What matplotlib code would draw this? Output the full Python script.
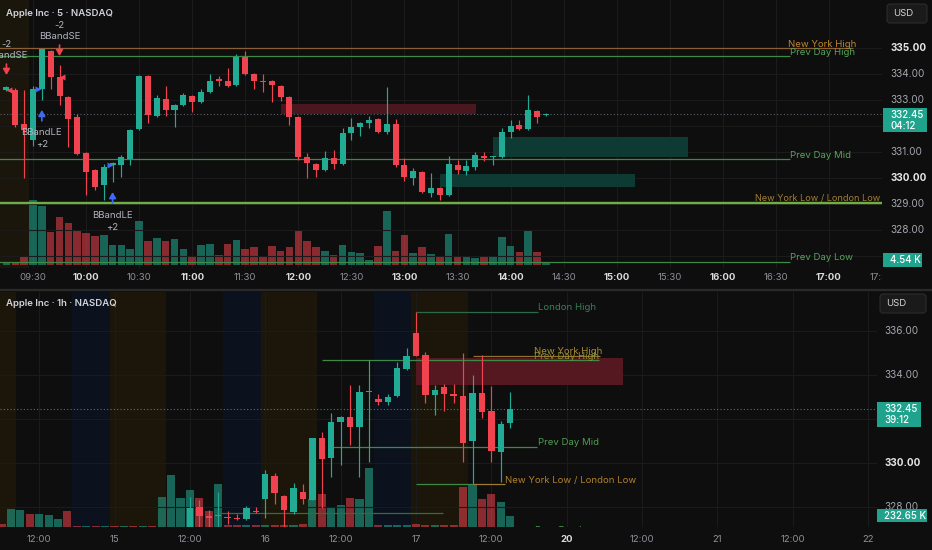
import matplotlib
matplotlib.use("Agg")
import matplotlib.pyplot as plt
from matplotlib.patches import Rectangle, FancyBboxPatch
import matplotlib.transforms as mtransforms
import numpy as np

plt.rcParams['font.family'] = ['Inter', 'DejaVu Sans']

# ======================= DATA =======================
top_title = "Apple Inc · 5 · NASDAQ"
bot_title = "Apple Inc · 1h · NASDAQ"

# ---- top panel: 5-minute bars, index 0 = 09:30 ----
top_bar = list(range(-3, 59))
top_open = [333.38, 333.38, 332.08, 331.46, 333.42, 334.88, 333.88, 333.12, 332.35, 330.96,
            330.31, 329.73, 330.50, 330.50, 330.73, 331.88, 333.92, 332.38, 333.04, 332.62,
            332.81, 333.15, 332.92, 333.31, 333.81, 333.73, 333.58, 334.65, 334.00, 333.73,
            333.73, 333.54, 333.12, 332.35, 330.81, 330.54, 330.31, 330.77, 330.54, 331.73,
            331.96, 332.12, 332.27, 331.77, 332.08, 330.50, 330.00, 330.23, 329.42, 329.62,
            329.35, 330.50, 330.27, 330.42, 330.85, 330.79, 330.81, 331.77, 332.04, 331.88,
            332.58, 332.42]
top_high = [333.54, 333.46, 333.38, 333.54, 334.98, 334.92, 334.35, 333.15, 332.46, 331.00,
            330.35, 330.54, 330.62, 330.88, 331.88, 333.96, 333.96, 333.19, 333.54, 332.85,
            333.27, 333.19, 333.42, 334.00, 333.92, 334.23, 334.77, 334.88, 334.04, 334.00,
            333.77, 333.58, 333.15, 332.38, 330.96, 330.58, 331.04, 331.08, 331.92, 332.31,
            332.15, 332.38, 332.31, 333.50, 332.27, 330.77, 330.38, 330.27, 330.19, 329.65,
            330.85, 330.69, 330.69, 331.00, 331.00, 330.85, 331.92, 332.23, 332.23, 333.19,
            332.62, 332.50]
top_low = [333.35, 331.96, 330.00, 331.23, 333.00, 333.42, 332.81, 331.19, 330.88, 329.35,
           329.54, 329.15, 329.85, 330.04, 330.50, 331.85, 332.12, 332.35, 332.38, 331.96,
           332.77, 332.54, 332.88, 333.27, 333.54, 333.50, 333.54, 333.96, 333.42, 333.31,
           332.92, 332.96, 332.04, 330.69, 330.00, 330.04, 330.27, 330.35, 330.50, 331.46,
           331.62, 331.92, 331.73, 331.69, 330.42, 329.88, 329.73, 329.42, 329.27, 329.15,
           329.31, 330.15, 330.12, 330.31, 330.65, 330.50, 330.77, 331.54, 331.85, 331.85,
           332.12, 332.38]
top_close = [333.50, 332.04, 331.85, 333.42, 334.96, 333.88, 333.15, 332.27, 330.92, 330.23,
             329.65, 330.42, 330.58, 330.81, 331.85, 333.92, 332.42, 333.08, 332.62, 332.81,
             333.19, 332.92, 333.31, 333.73, 333.73, 333.54, 334.65, 334.00, 333.73, 333.69,
             333.58, 333.12, 332.35, 330.81, 330.58, 330.31, 330.77, 330.54, 331.73, 331.96,
             332.12, 332.23, 331.77, 332.08, 330.50, 330.04, 330.27, 329.46, 329.62, 329.35,
             330.54, 330.31, 330.46, 330.88, 330.77, 330.81, 331.77, 332.00, 331.88, 332.62,
             332.35, 332.45]
top_volume_k = [4.5, 6.8, 20.4, 147.6, 133.9, 74.9, 109.0, 95.3, 79.5, 72.6,
                65.8, 68.1, 45.4, 45.4, 36.3, 99.9, 54.5, 61.3, 54.5, 59.0,
                36.3, 20.4, 45.4, 47.7, 22.7, 47.7, 56.8, 36.3, 40.9, 20.4,
                43.1, 31.8, 40.9, 77.2, 54.5, 40.9, 31.8, 22.7, 45.4, 29.5,
                27.2, 11.4, 43.1, 122.6, 31.8, 68.1, 27.2, 40.9, 25.0, 20.4,
                70.4, 18.2, 18.2, 15.9, 18.2, 18.2, 63.6, 43.1, 29.5, 77.2,
                29.5, 4.54]
top_time_labels = ["09:30", "10:00", "10:30", "11:00", "11:30", "12:00", "12:30", "13:00",
                   "13:30", "14:00", "14:30", "15:00", "15:30", "16:00", "16:30", "17:00", "17:30"]
top_time_bars = [0, 6, 12, 18, 24, 30, 36, 42, 48, 54, 60, 66, 72, 78, 84, 90, 96]
top_price_ticks = [328, 329, 330, 331, 333, 334, 335]
top_last_price = 332.45
top_countdown = "04:12"
top_last_volume = "4.54 K"

top_level_names = ["New York High", "Prev Day High", "Prev Day Mid",
                   "New York Low / London Low", "Prev Day Low"]
top_level_prices = [335.00, 334.69, 330.73, 329.04, 326.77]
top_level_end_bar = [92.7, 85.6, 85.6, 96.5, 85.6]
top_level_label_bar = [85.4, 85.6, 85.6, 81.6, 85.6]

top_zone_start = [28.0, 52.0, 46.0]
top_zone_end = [50.1, 74.1, 68.1]
top_zone_low = [332.46, 330.81, 329.65]
top_zone_high = [332.85, 331.58, 330.15]

short_sig_bar = [-3, 3]
short_sig_price = [333.96, 334.69]
long_sig_bar = [1, 9]
long_sig_price = [332.62, 329.46]
fill_bar = [-2.68, 0.6, 3.3, 8.7]
fill_price = [333.38, 333.42, 333.87, 330.50]
fill_is_buy = [False, True, False, True]

# ---- bottom panel: 1-hour bars, index 0 = day 17 04:00 ----
bot_bar = list(range(-24, 11))
bot_open = [326.95, 328.01, 327.59, 327.59, 327.55, 327.51, 327.45, 327.83, 328.35, 329.41,
            328.51, 327.79, 328.70, 328.32, 331.12, 330.21, 331.88, 332.09, 331.65, 333.22,
            332.91, 332.79, 333.06, 334.26, 335.93, 334.91, 333.09, 333.44, 333.12, 333.05,
            331.00, 333.20, 332.36, 330.51, 331.80]
bot_high = [328.45, 328.32, 327.86, 328.70, 327.83, 327.68, 328.05, 328.01, 329.68, 329.53,
            328.55, 329.10, 329.05, 331.15, 331.42, 332.26, 332.15, 333.55, 333.55, 334.68,
            333.12, 333.15, 334.58, 335.21, 336.88, 335.06, 333.55, 333.58, 333.58, 334.99,
            334.00, 334.91, 333.51, 331.91, 333.21]
bot_low = [326.85, 327.00, 327.00, 327.06, 327.23, 327.41, 327.41, 327.71, 327.49, 328.14,
           326.90, 327.68, 328.14, 328.30, 327.94, 329.38, 329.91, 330.82, 329.38, 330.06,
           332.64, 332.62, 333.00, 334.24, 334.85, 332.71, 332.18, 332.36, 332.73, 330.03,
           329.05, 332.06, 330.06, 329.15, 331.58]
bot_close = [327.97, 327.59, 327.51, 327.60, 327.49, 327.45, 327.94, 327.79, 329.50, 328.65,
             327.86, 328.85, 328.36, 331.12, 330.18, 331.88, 332.09, 331.65, 333.21, 333.24,
             332.76, 333.01, 334.30, 334.86, 334.87, 333.09, 333.32, 333.12, 333.06, 330.92,
             333.20, 332.33, 330.55, 331.77, 332.45]
bot_vol_bar = list(range(-44, 11))
bot_volume_k = [72, 374, 368, 269, 269, 247, 178, 338, 25, 18,
                20, 15, 22, 18, 20, 16, 25, 635, 1093, 622,
                776, 607, 338, 903, 36, 32, 32, 32, 42, 42,
                42, 42, 57, 586, 706, 431, 459, 622, 586, 1256,
                42, 42, 42, 42, 53, 42, 32, 32, 32, 846,
                882, 586, 692, 529, 232.65]
bot_volume_up = [0, 1, 1, 0, 1, 1, 1, 0, 0, 1,
                 0, 1, 0, 1, 0, 1, 0, 1, 1, 1,
                 1, 0, 0, 1, 0, 0, 1, 0, 1, 0,
                 0, 1, 0, 1, 0, 1, 1, 0, 1, 1,
                 0, 1, 1, 1, 0, 0, 1, 0, 0, 0,
                 1, 0, 0, 1, 1]
bot_time_labels = ["12:00", "15", "12:00", "16", "12:00", "17", "12:00", "20",
                   "12:00", "21", "12:00", "22"]
bot_time_bars = [-40, -32, -24, -16, -8, 0, 8, 16, 24, 32, 40, 48]
bot_price_ticks = [328, 330, 334, 336]
bot_grid_prices = [328, 330, 332, 334, 336]
bot_last_price = 332.45
bot_countdown = "39:12"
bot_last_volume = "232.65 K"
bot_premarket_spans = [(-48.5, -42.5), (-32.5, -26.5), (-16.5, -10.5), (-0.5, 5.5)]
bot_afterhours_spans = [(-36.5, -32.5), (-20.5, -16.5), (-4.5, -0.5)]

bot_lines_price = [336.88, 334.88, 334.68, 330.74, 329.03, 329.03, 327.71]
bot_lines_start = [0, 6.05, -10, -9, 0, 6, -21]
bot_lines_end = [12.95, 19.5, 19.4, 12.8, 6, 9.45, 2.9]
bot_label_names = ["London High", "New York High", "Prev Day High", "Prev Day Mid",
                   "New York Low / London Low", "Prev Day Low"]
bot_label_prices = [336.88, 334.88, 334.68, 330.74, 329.03, 326.77]
bot_label_bar = [12.95, 12.53, 12.53, 12.95, 9.45, 12.6]

bot_zone_start, bot_zone_end = [0.0], [22.0]
bot_zone_low, bot_zone_high = [333.55], [334.79]

# ======================= STYLE =======================
BG = '#0e0e0e'
UP = '#22ab94'
DN = '#f0424f'
TEAL_TAG = '#1fa38c'
GRID = '#1b1b1b'
BLUE = '#3d6bf5'
TXT = '#d1d4dc'
TXT_DIM = '#8e919a'
GREEN_LINE = '#3c8a45'
GREEN_TXT = '#55a45a'
ORANGE_LINE = '#8a5f36'
ORANGE_TXT = '#c1852e'
VOL_ALPHA = 0.55

W, H = 932, 550
fig = plt.figure(figsize=(W / 100, H / 100), dpi=100, facecolor=BG)


def px_rect(l, t, r, b):
    return [l / W, 1 - b / H, (r - l) / W, (b - t) / H]


def make_panel(rect, xlim, ylim, vlim):
    axv = fig.add_axes(rect)
    axv.set_facecolor(BG)
    ax = axv.twinx()
    ax.set_zorder(axv.get_zorder() + 1)
    ax.patch.set_visible(False)
    for a in (ax, axv):
        a.set_xlim(*xlim)
        for s in a.spines.values():
            s.set_visible(False)
        a.set_xticks([])
        a.set_yticks([])
    ax.set_ylim(*ylim)
    axv.set_ylim(*vlim)
    return ax, axv


def candles(ax, x, o, h, l, c, width, minh):
    x = np.asarray(x, float)
    o, h, l, c = map(np.asarray, (o, h, l, c))
    col = np.where(c >= o, UP, DN)
    ax.vlines(x, l, h, colors=col, linewidth=0.85, zorder=5)
    ax.bar(x, np.maximum(np.abs(c - o), minh), width=width, bottom=np.minimum(o, c),
           color=col, linewidth=0, zorder=6)


def px_y(ax, v):
    return H - ax.transData.transform((0, v))[1]


ARROW = '-|>,head_width=0.2,head_length=0.35'

# ---------------- top panel ----------------
ax1, ax1v = make_panel(px_rect(0, 0, 882, 268), (-3.731, 95.997), (326.5385, 336.8462),
                       (-6.81, 601.55))
ax1v.axvspan(-10, -0.5, color='#1b160c', zorder=0, lw=0)
for b in top_time_bars:
    ax1v.axvline(b, color=GRID, lw=0.8, zorder=0.5)
for p in range(327, 336):
    ax1.axhline(p, color=GRID, lw=0.8, zorder=0.5)

tb = np.array(top_bar)
t_up = np.array(top_close) >= np.array(top_open)
ax1v.bar(tb, top_volume_k, width=0.86, color=np.where(t_up, UP, DN), alpha=VOL_ALPHA,
         linewidth=0, zorder=2)

zone_cols = ['#4a171e', '#0d3a32', '#0d3a32']
for s, e, lo, hi, zc in zip(top_zone_start, top_zone_end, top_zone_low, top_zone_high, zone_cols):
    ax1.add_patch(Rectangle((s, lo), e - s, hi - lo, fc=zc, ec='none', zorder=2))

ax1.axhline(top_last_price, color='#5d606b', lw=0.8, ls=(0, (1, 2)), zorder=3)

lvl_line_col = [ORANGE_LINE, GREEN_LINE, GREEN_LINE, '#6fae45', GREEN_LINE]
lvl_lw = [0.9, 0.9, 0.9, 1.7, 0.9]
lvl_txt_col = [ORANGE_TXT, GREEN_TXT, GREEN_TXT, '#a27c35', GREEN_TXT]
lvl_fs = [6.9, 6.9, 6.9, 6.6, 6.9]
up4 = mtransforms.offset_copy(ax1.transData, fig=fig, x=0, y=4, units='dots')
for name, p, e, lb, lc, lw, tc, fs in zip(top_level_names, top_level_prices, top_level_end_bar,
                                          top_level_label_bar, lvl_line_col, lvl_lw,
                                          lvl_txt_col, lvl_fs):
    ax1.hlines(p, -10, e, color=lc, lw=lw, zorder=4)
    ax1.text(lb, p, name, transform=up4, color=tc, fontsize=fs, va='center', ha='left',
             zorder=7, clip_on=True)
ax1.text(85.4, 336.96, "London High", transform=up4, color=GREEN_TXT, fontsize=6.9,
         va='center', ha='left', zorder=7, clip_on=True)

candles(ax1, top_bar, top_open, top_high, top_low, top_close, 0.68, 0.04)

# strategy signals
for b, p in zip(short_sig_bar, short_sig_price):
    ax1.annotate('', xy=(b, p), xytext=(0, 11), textcoords='offset pixels',
                 arrowprops=dict(arrowstyle=ARROW, color=DN, lw=1.2, shrinkA=0, shrinkB=0),
                 zorder=8)
    ax1.annotate('BBandSE', xy=(b, p), xytext=(0, 20), textcoords='offset pixels',
                 color='#b2b5be', fontsize=6.9, ha='center', va='center', zorder=8)
    ax1.annotate('-2', xy=(b, p), xytext=(0, 31), textcoords='offset pixels',
                 color='#b2b5be', fontsize=6.9, ha='center', va='center', zorder=8)
for b, p in zip(long_sig_bar, long_sig_price):
    ax1.annotate('', xy=(b, p), xytext=(0, -11), textcoords='offset pixels',
                 arrowprops=dict(arrowstyle=ARROW, color=BLUE, lw=1.2, shrinkA=0, shrinkB=0),
                 zorder=8)
    ax1.annotate('BBandLE', xy=(b, p), xytext=(0, -23), textcoords='offset pixels',
                 color='#b2b5be', fontsize=6.9, ha='center', va='center', zorder=8)
    ax1.annotate('+2', xy=(b, p), xytext=(0, -35), textcoords='offset pixels',
                 color='#b2b5be', fontsize=6.9, ha='center', va='center', zorder=8)
for b, p, buy in zip(fill_bar, fill_price, fill_is_buy):
    ax1.plot(b, p, marker='>' if buy else '<', ms=4, color=BLUE if buy else DN,
             mec='none', zorder=8)

# price axis labels
tr1 = mtransforms.blended_transform_factory(ax1.transAxes, ax1.transData)
for p in top_price_ticks:
    bold = p in (330, 335)
    ax1.text(1 + 8.7 / 882, p, f"{p:.2f}", transform=tr1, clip_on=False,
             color='#e6e6e6' if bold else '#a3a6af', fontsize=7.2,
             fontweight='bold' if bold else 'normal', va='center', ha='left')

# time axis
axt1 = fig.add_axes(px_rect(0, 268, 882, 290))
axt1.set_xlim(ax1.get_xlim()); axt1.set_ylim(0, 1); axt1.axis('off')
for lab, b in zip(top_time_labels, top_time_bars):
    bold = lab.endswith(':00')
    axt1.text(b, 0.57, lab, color='#dcdcdc' if bold else TXT_DIM, fontsize=6.9,
              fontweight='bold' if bold else 'normal', ha='center', va='center', clip_on=True)

# ---------------- bottom panel ----------------
ax2, ax2v = make_panel(px_rect(0, 292, 877, 527), (-44.16, 48.94), (327.0909, 337.7727),
                       (0, 4970))
for s, e in bot_premarket_spans:
    ax2v.axvspan(s, e, color='#1c160a', zorder=0, lw=0)
for s, e in bot_afterhours_spans:
    ax2v.axvspan(s, e, color='#0b111d', zorder=0, lw=0)
for b in bot_time_bars:
    ax2v.axvline(b, color=GRID, lw=0.8, zorder=0.5)
for p in bot_grid_prices:
    ax2.axhline(p, color=GRID, lw=0.8, zorder=0.5)

ax2v.bar(bot_vol_bar, bot_volume_k, width=0.86,
         color=np.where(np.array(bot_volume_up) == 1, UP, DN), alpha=VOL_ALPHA,
         linewidth=0, zorder=2)

for s, e, lo, hi in zip(bot_zone_start, bot_zone_end, bot_zone_low, bot_zone_high):
    ax2.add_patch(Rectangle((s, lo), e - s, hi - lo, fc='#561820', ec='none', zorder=2))

ax2.axhline(bot_last_price, color=UP, lw=0.8, ls=(0, (1, 2)), zorder=3, alpha=0.8)

bl_cols = ['#2c6b48', '#94702e', GREEN_LINE, GREEN_LINE, GREEN_LINE, '#a0782e', '#2f6f3c']
for p, s, e, c in zip(bot_lines_price, bot_lines_start, bot_lines_end, bl_cols):
    ax2.hlines(p, s, e, color=c, lw=0.9, zorder=4)
bl_txt = ['#3a7d57', '#ad8a33', '#8c9038', '#4e9d53', '#b07f2c', '#4e9d53']
up4b = mtransforms.offset_copy(ax2.transData, fig=fig, x=0, y=4, units='dots')
for name, p, b, c in zip(bot_label_names, bot_label_prices, bot_label_bar, bl_txt):
    ax2.text(b, p, name, transform=up4b, color=c, fontsize=6.9, va='center', ha='left',
             zorder=7, clip_on=True)

candles(ax2, bot_bar, bot_open, bot_high, bot_low, bot_close, 0.68, 0.05)

tr2 = mtransforms.blended_transform_factory(ax2.transAxes, ax2.transData)
for p in bot_price_ticks:
    bold = p == 330
    ax2.text(1 + 7.3 / 877, p, f"{p:.2f}", transform=tr2, clip_on=False,
             color='#e6e6e6' if bold else '#a3a6af', fontsize=7.2,
             fontweight='bold' if bold else 'normal', va='center', ha='left')

axt2 = fig.add_axes(px_rect(0, 527, 877, 550))
axt2.set_xlim(ax2.get_xlim()); axt2.set_ylim(0, 1); axt2.axis('off')
for lab, b in zip(bot_time_labels, bot_time_bars):
    bold = lab == "20"
    axt2.text(b, 0.46, lab, color='#dcdcdc' if bold else TXT_DIM, fontsize=6.9,
              fontweight='bold' if bold else 'normal', ha='center', va='center', clip_on=True)

# ---------------- overlay (pixel coords) ----------------
ov = fig.add_axes([0, 0, 1, 1])
ov.set_xlim(0, W); ov.set_ylim(H, 0); ov.axis('off'); ov.patch.set_visible(False)
ov.set_zorder(20)

ov.plot([0, W], [290, 290], color='#2a2a2a', lw=1.6)
ov.text(6.5, 13, top_title, color=TXT, fontsize=6.9, fontweight='semibold', va='center')
ov.text(6.5, 303, bot_title, color=TXT, fontsize=6.9, fontweight='semibold', va='center')

for (l, t, r, b) in [(887, 4, 927, 23), (880, 294, 926, 313)]:
    ov.add_patch(FancyBboxPatch((l, t), r - l, b - t, boxstyle='round,pad=0,rounding_size=3',
                                fc='#1a1a1a', ec='#2c2c2c', lw=0.8))
    ov.text(l + 6, (t + b) / 2 + 0.5, 'USD', color=TXT, fontsize=6.9, va='center', ha='left')


def tag(x0, x1, y0, y1, lines, ys, tx):
    ov.add_patch(Rectangle((x0, y0), x1 - x0, y1 - y0, fc=TEAL_TAG, ec='none'))
    for s, yy in zip(lines, ys):
        ov.text(tx, yy, s, color='white', fontsize=7.0, va='center', ha='left',
                fontweight='medium')


cy = px_y(ax1, top_last_price)
tag(883, 927, cy - 6.6, cy + 17.4, [f"{top_last_price:.2f}", top_countdown], [cy + 0.4, cy + 11.7], 890.5)
tag(883, 922, 253, 267, [top_last_volume], [260.3], 890.5)
cy = px_y(ax2, bot_last_price)
tag(877, 921, cy - 6.8, cy + 17.6, [f"{bot_last_price:.2f}", bot_countdown], [cy + 0.1, cy + 11.2], 884.3)
vy = px_y(ax2v, 232.65)
tag(877, 927, vy - 6.5, vy + 6.2, [bot_last_volume], [vy], 884.3)

fig.savefig("out.png", dpi=100, facecolor=BG)
